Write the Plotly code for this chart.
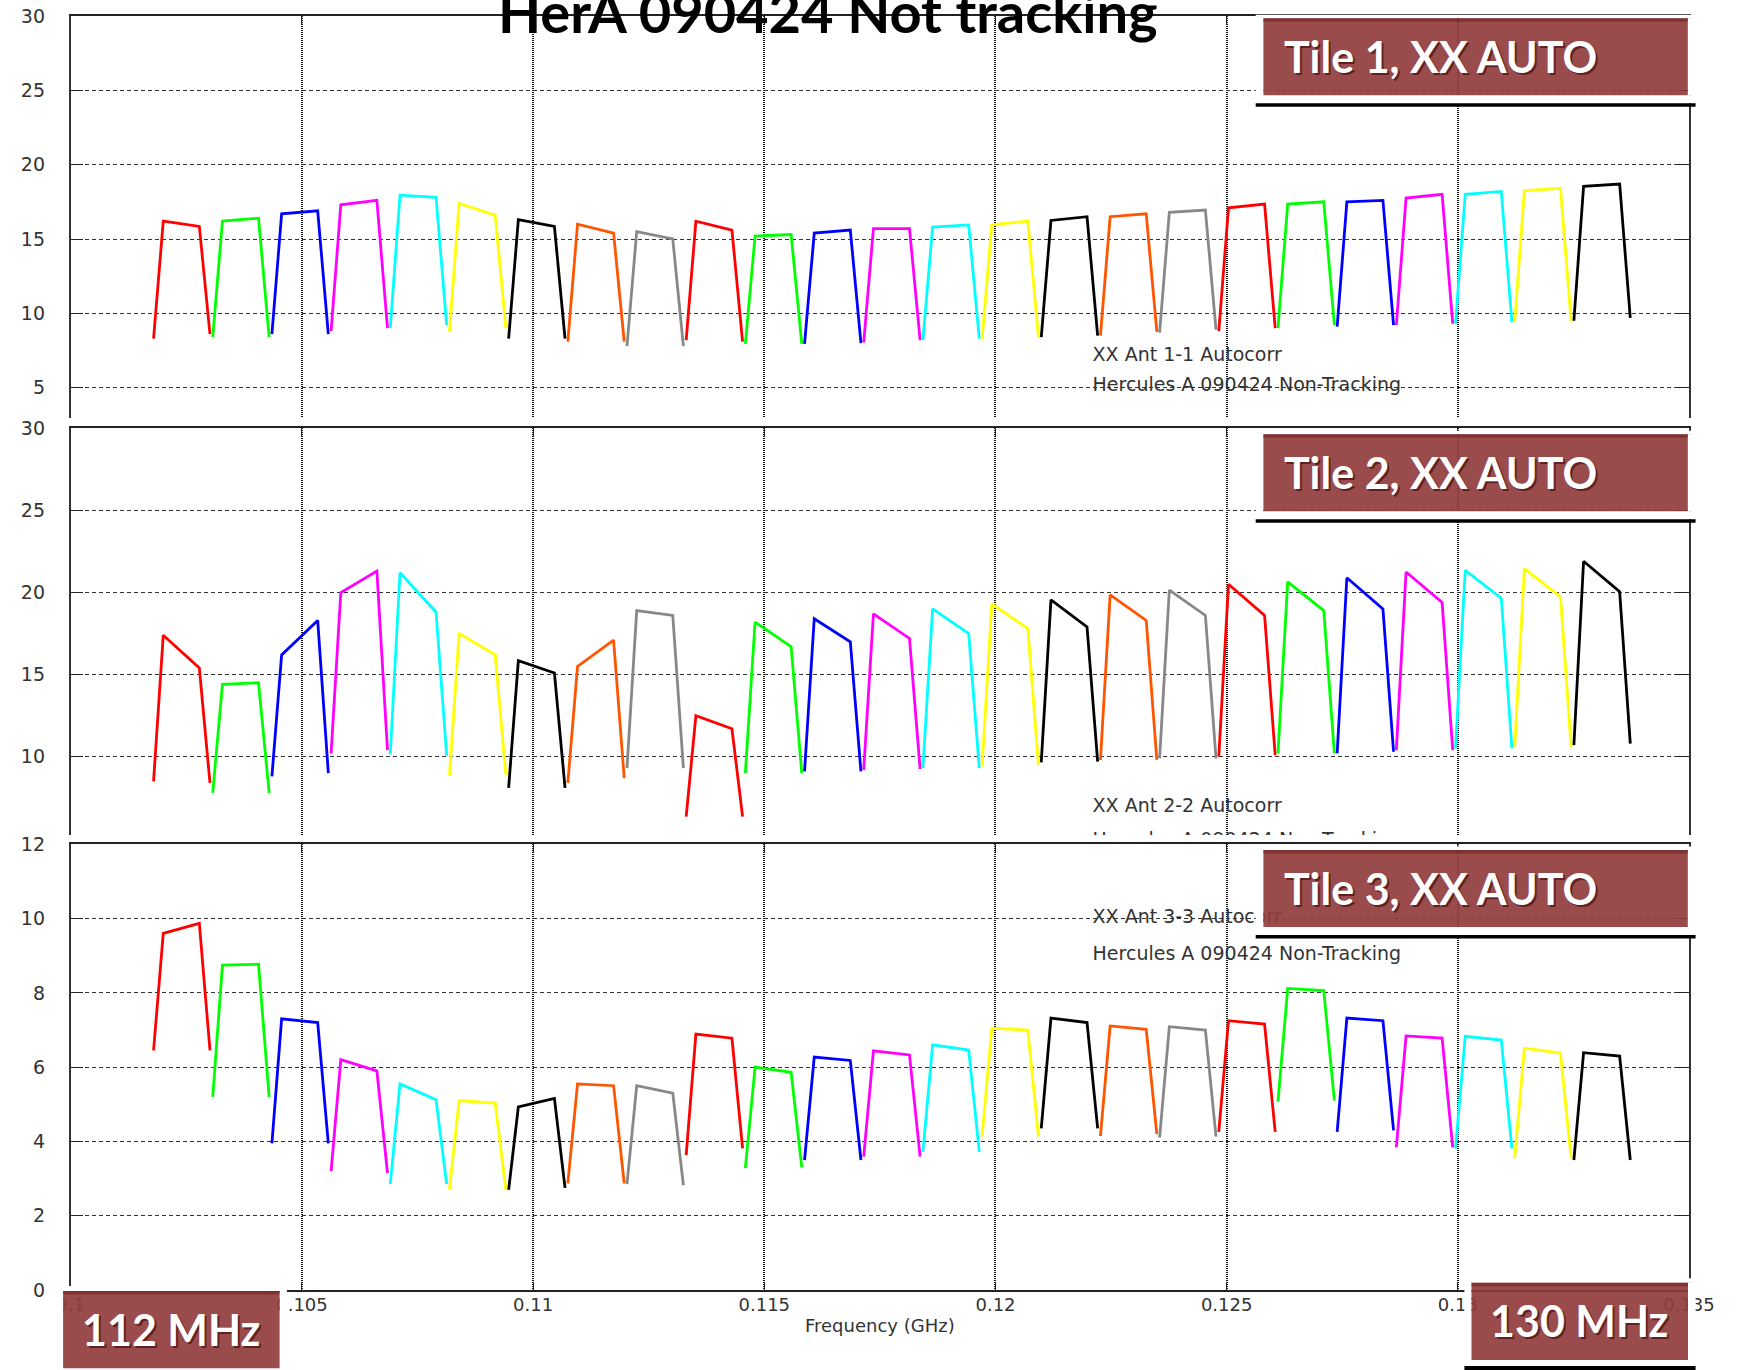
import plotly.graph_objects as go

W, H = 1759, 1370

# coarse channel centres (MHz)
centre_mhz = [102.40, 103.68, 104.96, 106.24, 107.52, 108.80, 110.08, 111.36, 112.64,
              113.92, 115.20, 116.48, 117.76, 119.04, 120.32, 121.60, 122.88, 124.16,
              125.44, 126.72, 128.00, 129.28, 130.56, 131.84, 133.12]

# Tile 1 autocorrelation levels: left foot, left shoulder, right shoulder, right foot
tile1_left_foot = [8.3, 8.4, 8.6, 8.8, 9.0, 8.75, 8.3, 8.1, 7.8, 8.2, 7.95, 7.95, 8.05,
                   8.2, 8.25, 8.4, 8.5, 8.7, 8.8, 9.0, 9.1, 9.2, 9.3, 9.4, 9.5]
tile1_left_top = [16.2, 16.2, 16.7, 17.3, 17.95, 17.4, 16.3, 16.0, 15.5, 16.2, 15.2, 15.4, 15.7,
                  15.8, 15.95, 16.25, 16.5, 16.8, 17.1, 17.35, 17.5, 17.75, 18.0, 18.25, 18.55]
tile1_right_top = [15.85, 16.4, 16.9, 17.6, 17.8, 16.6, 15.85, 15.4, 15.0, 15.6, 15.3, 15.6, 15.7,
                   15.95, 16.2, 16.5, 16.7, 16.95, 17.35, 17.5, 17.6, 18.0, 18.2, 18.4, 18.7]
tile1_right_foot = [8.6, 8.4, 8.6, 9.0, 9.2, 9.0, 8.3, 8.1, 7.8, 8.1, 7.95, 8.0, 8.2,
                    8.3, 8.4, 8.5, 8.75, 8.9, 9.0, 9.2, 9.2, 9.3, 9.4, 9.5, 9.7]

# Tile 2
tile2_left_foot = [8.5, 7.8, 8.8, 10.2, 10.15, 8.85, 8.1, 8.4, 9.3, 6.35, 9.0, 9.1, 9.2,
                   9.3, 9.4, 9.65, 9.8, 9.9, 10.0, 10.2, 10.2, 10.4, 10.5, 10.6, 10.7]
tile2_left_top = [17.4, 14.4, 16.2, 20.0, 21.2, 17.5, 15.85, 15.5, 18.9, 12.5, 18.2, 18.4, 18.7,
                  19.0, 19.3, 19.55, 19.85, 20.15, 20.5, 20.65, 20.9, 21.25, 21.35, 21.45, 21.9]
tile2_right_top = [15.4, 14.5, 18.3, 21.3, 18.8, 16.2, 15.1, 17.1, 18.6, 11.7, 16.7, 17.0, 17.2,
                   17.5, 17.8, 17.9, 18.3, 18.6, 18.6, 18.9, 19.0, 19.4, 19.65, 19.75, 20.05]
tile2_right_foot = [8.4, 7.8, 9.0, 10.4, 10.05, 8.9, 8.1, 8.7, 9.3, 6.35, 9.0, 9.1, 9.25,
                    9.3, 9.5, 9.7, 9.8, 9.9, 10.1, 10.2, 10.3, 10.4, 10.5, 10.6, 10.8]

# Tile 3
tile3_left_foot = [6.45, 5.2, 3.95, 3.2, 2.85, 2.7, 2.7, 2.87, 2.85, 3.63, 3.28, 3.5, 3.59,
                   3.72, 4.13, 4.35, 4.14, 4.1, 4.26, 5.07, 4.26, 3.84, 3.81, 3.55, 3.5]
tile3_left_top = [9.6, 8.75, 7.3, 6.2, 5.55, 5.1, 4.93, 5.55, 5.5, 6.89, 6.0, 6.27, 6.44,
                  6.6, 7.05, 7.32, 7.11, 7.09, 7.25, 8.12, 7.32, 6.84, 6.83, 6.51, 6.39]
tile3_right_top = [9.87, 8.77, 7.2, 5.9, 5.12, 5.03, 5.16, 5.5, 5.3, 6.78, 5.86, 6.18, 6.33,
                   6.46, 7.0, 7.2, 7.02, 7.0, 7.16, 8.06, 7.25, 6.78, 6.73, 6.38, 6.3]
tile3_right_foot = [6.45, 5.2, 3.95, 3.15, 2.85, 2.7, 2.75, 2.87, 2.82, 3.81, 3.3, 3.5, 3.59,
                    3.72, 4.13, 4.35, 4.2, 4.13, 4.26, 5.1, 4.3, 3.84, 3.81, 3.55, 3.5]

freq_ticks = [0.1, 0.105, 0.11, 0.115, 0.12, 0.125, 0.13, 0.135]
freq_labels = ['0.1', '0.105', '0.11', '0.115', '0.12', '0.125', '0.13', '0.135']

colours = ['#ff0000', '#00ff00', '#0000ff', '#ff00ff', '#00ffff', '#ffff00',
           '#000000', '#ff5500', '#888888']
edge = [-0.61, -0.40, 0.38, 0.61]   # vertex offsets inside a channel, MHz


def fx(px):
    return px / W


def fy(px):
    return 1 - px / H


fig = go.Figure()

panels = [
    ('x', 'y', tile1_left_foot, tile1_left_top, tile1_right_top, tile1_right_foot),
    ('x2', 'y2', tile2_left_foot, tile2_left_top, tile2_right_top, tile2_right_foot),
    ('x3', 'y3', tile3_left_foot, tile3_left_top, tile3_right_top, tile3_right_foot),
]
for xa, ya, lf, lt, rt, rf in panels:
    for i, c in enumerate(centre_mhz):
        fig.add_trace(go.Scatter(
            x=[(c + d) / 1000 for d in edge], y=[lf[i], lt[i], rt[i], rf[i]],
            mode='lines', line=dict(color=colours[i % 9], width=2.8),
            xaxis=xa, yaxis=ya, hoverinfo='skip', showlegend=False))

# in-plot captions from the original plots
small = dict(family='DejaVu Sans', size=19, color='#333')
captions = [
    ('x', 'y', 7.1, 'XX Ant 1-1 Autocorr'),
    ('x', 'y', 5.08, 'Hercules A 090424 Non-Tracking'),
    ('x2', 'y2', 6.95, 'XX Ant 2-2 Autocorr'),
    ('x2', 'y2', 4.85, 'Hercules A 090424 Non-Tracking'),
    ('x3', 'y3', 10.0, 'XX Ant 3-3 Autocorr'),
    ('x3', 'y3', 9.0, 'Hercules A 090424 Non-Tracking'),
]
for xa, ya, yv, t in captions:
    fig.add_trace(go.Scatter(x=[0.1221], y=[yv], mode='text', text=[t],
                             textposition='middle right', textfont=small,
                             cliponaxis=True, xaxis=xa, yaxis=ya,
                             hoverinfo='skip', showlegend=False))

xdom = [fx(70.8), fx(1689)]
tickfont = dict(family='DejaVu Sans', size=19, color='#333')

xbase = dict(domain=xdom, range=[0.1, 0.135], tickvals=freq_ticks, ticktext=freq_labels,
             showgrid=True, gridcolor='#111', gridwidth=1.5, griddash='1px,1px',
             showline=True, linecolor='#222', linewidth=1.5, ticks='inside', ticklen=8,
             tickcolor='#222', zeroline=False, fixedrange=True, automargin=False)
ybase = dict(showgrid=True, gridcolor='#333', gridwidth=1, griddash='4px,3px',
             showline=True, linecolor='#333', linewidth=2, mirror='ticks', ticks='inside',
             ticklen=12, tickcolor='#222', tickfont=tickfont, ticklabelstandoff=20,
             zeroline=False, fixedrange=True, automargin=False)

layout_axes = dict(
    xaxis=dict(xbase, anchor='y', side='top', showticklabels=False),
    xaxis2=dict(xbase, anchor='y2', side='top', showticklabels=False),
    xaxis3=dict(xbase, anchor='y3', mirror='ticks', tickfont=dict(tickfont, size=18),
                ticklabelstandoff=-2),
    yaxis=dict(ybase, anchor='x', domain=[fy(418), fy(16)], range=[2.96, 30],
               tickvals=[5, 10, 15, 20, 25, 30]),
    yaxis2=dict(ybase, anchor='x2', domain=[fy(835), fy(428.3)], range=[5.23, 30],
                tickvals=[10, 15, 20, 25, 30]),
    yaxis3=dict(ybase, anchor='x3', domain=[fy(1290), fy(844.3)], range=[0, 12],
                tickvals=[0, 2, 4, 6, 8, 10, 12]),
)

shapes = []
annotations = []
red = 'rgba(145,60,60,0.92)'
white = '#ffffff'


def rect(x0, y0, x1, y1, colour):
    shapes.append(dict(type='rect', xref='paper', yref='paper', layer='above',
                       x0=fx(x0), x1=fx(x1), y0=fy(y1), y1=fy(y0),
                       fillcolor=colour, line=dict(width=0)))


def label_box(ox0, oy0, ox1, oy1, rx0, ry0, rx1, ry1, black_y=None):
    rect(ox0, oy0, ox1, ry0, white)
    rect(ox0, ry1, ox1, oy1, white)
    rect(ox0, ry0, rx0, ry1, white)
    rect(rx1, ry0, ox1, ry1, white)
    rect(rx0, ry0, rx1, ry1, red)
    rect(rx0, ry0, rx1, ry0 + 3.5, 'rgba(110,35,35,0.6)')
    if black_y is not None:
        rect(ox0, black_y[0], ox1, black_y[1], '#000000')


def box_text(text, x, y, xanchor):
    big = dict(family='Lato', size=43, color='rgba(80,20,20,0.75)')
    annotations.append(dict(text='<b>%s</b>' % text, x=fx(x), y=fy(y), xref='paper',
                            yref='paper', xanchor=xanchor, yanchor='middle',
                            showarrow=False, font=big, xshift=1.5, yshift=-2))
    annotations.append(dict(text='<b>%s</b>' % text, x=fx(x), y=fy(y), xref='paper',
                            yref='paper', xanchor=xanchor, yanchor='middle',
                            showarrow=False, font=dict(big, color='#ffffff')))


for top, txt in [(18.3, 'Tile 1, XX AUTO'), (434.3, 'Tile 2, XX AUTO'), (850, 'Tile 3, XX AUTO')]:
    label_box(1255.7, top - 3.5, 1695.6, top + 85, 1263.4, top, 1687.8, top + 77,
              black_y=(top + 85, top + 88.5))
    box_text(txt, 1282, top + 38, 'left')

label_box(55.7, 1286, 287, 1370, 63.1, 1291, 279.6, 1368.3)
box_text('112 MHz', 171, 1329, 'center')
label_box(1464.4, 1278.3, 1695.6, 1366, 1471.5, 1282.7, 1688, 1360,
          black_y=(1366, 1370))
box_text('130 MHz', 1579, 1320, 'center')

annotations.append(dict(text='<b>HerA 090424 Not tracking</b>', x=fx(827.5), y=fy(11.5),
                        xref='paper', yref='paper', xanchor='center', yanchor='middle',
                        showarrow=False, font=dict(family='Lato', size=56, color='#000')))
annotations.append(dict(text='Frequency (GHz)', x=fx(880), y=fy(1325), xref='paper',
                        yref='paper', xanchor='center', yanchor='middle', showarrow=False,
                        font=dict(family='DejaVu Sans', size=18, color='#333')))

fig.update_layout(
    width=W, height=H, margin=dict(l=0, r=0, t=0, b=0, pad=0, autoexpand=False),
    paper_bgcolor='white', plot_bgcolor='white', showlegend=False,
    shapes=shapes, annotations=annotations, **layout_axes)

fig.write_html('out.html', config={'displayModeBar': False},
               post_script="document.body.style.margin='0';document.body.style.overflow='hidden';")
